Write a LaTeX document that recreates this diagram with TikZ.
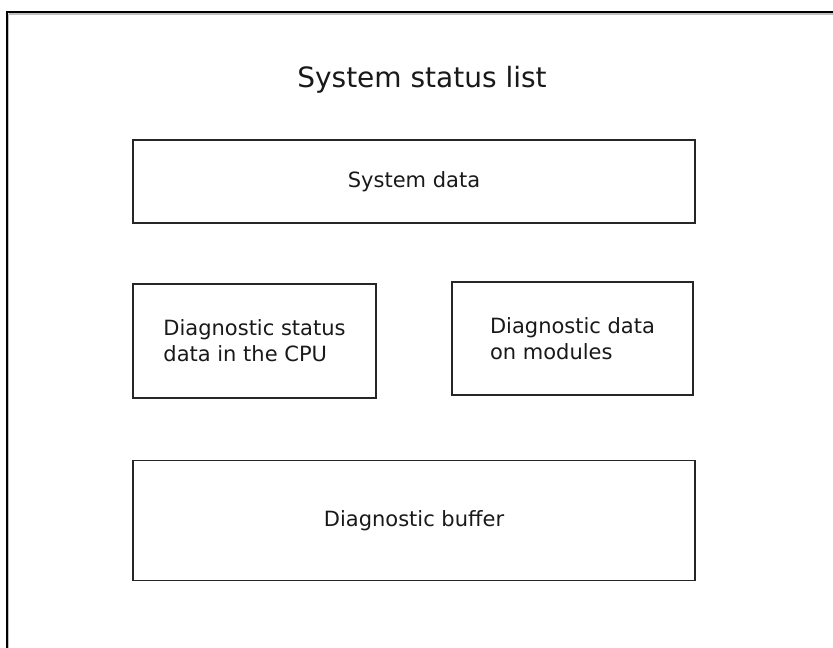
\documentclass[tikz,border=0pt]{standalone}
\usepackage{fontspec}
\setmainfont{DejaVu Sans}
\begin{document}
\begin{tikzpicture}[x=1pt,y=-1pt,
  box/.style={draw=black!85,line width=1.4pt,inner sep=0pt,align=left,
    font=\fontsize{21}{26}\selectfont,text=black!90},
  titletext/.style={font=\fontsize{28}{32}\selectfont,text=black!90}]
\useasboundingbox (0,0) rectangle (833,648);
% outer frame (open at right and bottom)
\coordinate (ftl) at (7,12);
\coordinate (ftr) at (833,12);
\coordinate (fbl) at (7,648);
\draw[black!25,line width=1.2pt] (8.6,14) -- (833,14);
\draw[black!25,line width=1.2pt] (8.6,14) -- (8.6,648);
\draw[black,line width=2pt] (fbl) -- (ftl) -- (ftr);
\node[titletext] (title) at (422,80) {System status list};
\node[box,minimum width=562,minimum height=83] (sys) at (414,181.5) {System data};
\node[box,minimum width=243,minimum height=114] (cpu) at (254.5,341) {Diagnostic status\\data in the CPU};
\node[box,minimum width=241,minimum height=113] (mod) at (572.5,338.5) {Diagnostic data\\on modules};
\node[box,minimum width=562,minimum height=120] (buf) at (414,520.5) {Diagnostic buffer};
\end{tikzpicture}
\end{document}
